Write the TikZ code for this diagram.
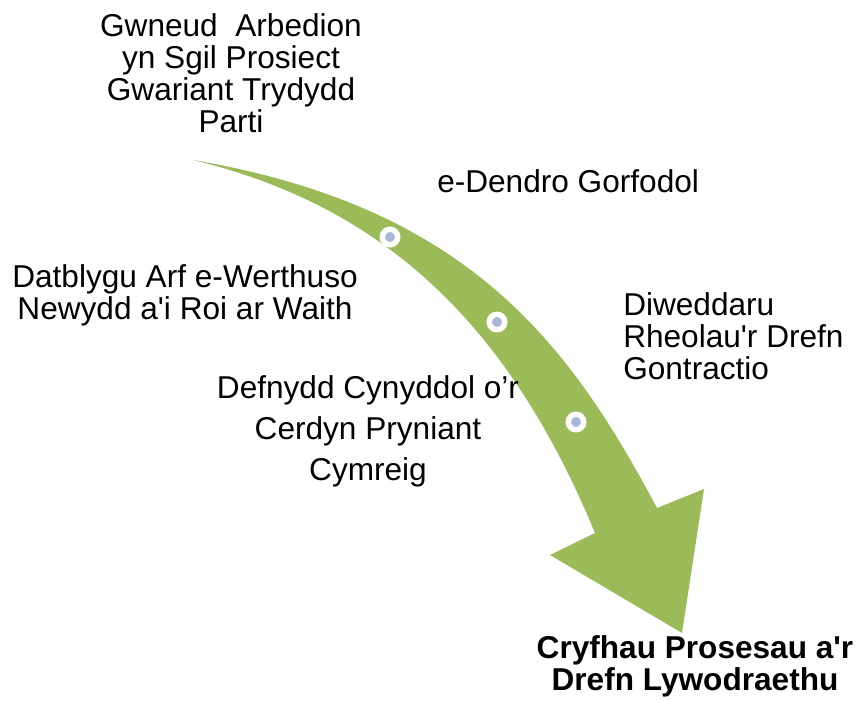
\documentclass[tikz,border=0pt]{standalone}
\usepackage{fontspec}
\setmainfont{Liberation Sans}
\usepackage{tikz}

\definecolor{arrowgreen}{HTML}{9BBB59}
\definecolor{dotblue}{HTML}{A7B9DB}

\begin{document}
\begin{tikzpicture}[x=0.75pt,y=-0.75pt,
				label/.style={inner sep=0, align=center, font=\fontsize{23.7}{24}\selectfont},
				labelL/.style={inner sep=0, align=left, font=\fontsize{23.7}{24}\selectfont},
				labelB/.style={inner sep=0, align=center, font=\fontsize{23.7}{24}\selectfont\bfseries},
				dot/.style={circle, fill=dotblue, draw=white, line width=4.1pt, minimum size=11.6pt, inner sep=0}]
	\useasboundingbox (0,0) rectangle (864,700);
	\coordinate (tail) at (193,160);
	\coordinate (headR) at (657,508);
	\coordinate (headL) at (595,533);
	\fill[arrowgreen] (tail) .. controls (470,207) and (570,345) .. (headR)
		-- (704,489) -- (682,633) -- (550,555) -- (headL)
		.. controls (513,335) and (393,208) .. (tail) -- cycle;
	\node[dot] (C1) at (390,237) {};
	\node[dot] (C2) at (497,322) {};
	\node[dot] (C3) at (576,422) {};
	\node[label, anchor=north] (T1) at (231,13) {Gwneud\ \ Arbedion\\yn Sgil Prosiect\\Gwariant Trydydd\\Parti};
	\node[labelL, anchor=north west] (T2) at (437,169) {e-Dendro Gorfodol};
	\node[label, anchor=north] (T3) at (185,264) {Datblygu Arf e-Werthuso\\Newydd a\textquotesingle i Roi ar Waith};
	\node[labelL, anchor=north west] (T4) at (623,292) {Diweddaru\\Rheolau\textquotesingle r Drefn\\Gontractio};
	\node[label, font=\fontsize{23.7}{30.75}\selectfont, anchor=north] (T5) at (368,375) {Defnydd Cynyddol o’r\\Cerdyn Pryniant\\Cymreig};
	\node[labelB, anchor=north] (T6) at (695,635) {Cryfhau Prosesau a\textquotesingle r\\Drefn Lywodraethu};
\end{tikzpicture}
\end{document}
